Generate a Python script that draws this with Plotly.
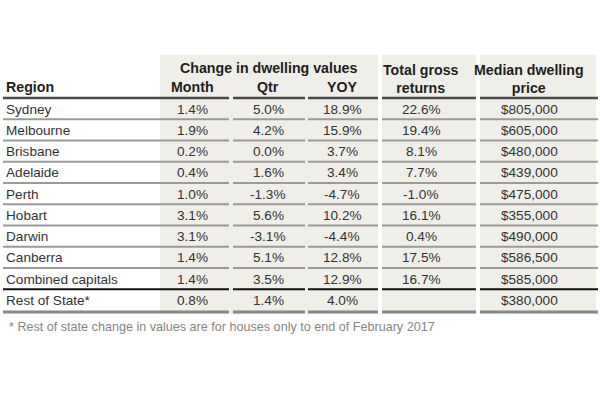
import plotly.graph_objects as go

regions = ["Sydney", "Melbourne", "Brisbane", "Adelaide", "Perth", "Hobart",
           "Darwin", "Canberra", "Combined capitals", "Rest of State*"]
month = ["1.4%", "1.9%", "0.2%", "0.4%", "1.0%", "3.1%", "3.1%", "1.4%", "1.4%", "0.8%"]
qtr = ["5.0%", "4.2%", "0.0%", "1.6%", "-1.3%", "5.6%", "-3.1%", "5.1%", "3.5%", "1.4%"]
yoy = ["18.9%", "15.9%", "3.7%", "3.4%", "-4.7%", "10.2%", "-4.4%", "12.8%", "12.9%", "4.0%"]
gross = ["22.6%", "19.4%", "8.1%", "7.7%", "-1.0%", "16.1%", "0.4%", "17.5%", "16.7%", ""]
median = ["$805,000", "$605,000", "$480,000", "$439,000", "$475,000", "$355,000",
          "$490,000", "$586,500", "$585,000", "$380,000"]
group_header = "Change in dwelling values"
sub_headers = ["Month", "Qtr", "YOY"]
gross_header = "Total gross<br>returns"
median_header = "Median dwelling<br>price"
region_header = "Region"
footnote = "* Rest of state change in values are for houses only to end of February 2017"

FONT = "Liberation Sans, Arial, sans-serif"
BODY = 13.6
HEAD = 14.2
SHADE = "#efeee9"

fig = go.Figure()

row0 = 109.0
dy = 21.25
sep0 = 98.0
col_x = {"month": 192, "qtr": 268, "yoy": 342, "gross": 421, "median": 529}
segments = [(3, 229), (233, 305), (308, 378), (382, 476), (480, 598)]

shapes = []
# shaded column blocks
for x0, x1 in [(160, 378), (382, 476), (480, 596)]:
    shapes.append(dict(type="rect", xref="x", yref="y", x0=x0, x1=x1, y0=55, y1=314,
                       fillcolor=SHADE, line=dict(width=0), layer="below"))

# horizontal separators
n = len(regions)
for i in range(n + 1):
    y = sep0 + i * dy
    if i == 0:
        color, w = "#4a4a4a", 2.4
    elif i == n - 1:
        color, w = "#111111", 2.2
    elif i == n:
        color, w = "#888888", 2.8
        y += 1.5
    else:
        color, w = "#9a9a9a", 1.8
    for x0, x1 in segments:
        shapes.append(dict(type="line", xref="x", yref="y", x0=x0, x1=x1, y0=y, y1=y,
                           line=dict(color=color, width=w)))

ann = []
def add(text, x, y, size=BODY, color="#333333", bold=False, xanchor="center"):
    if bold:
        text = "<b>" + text + "</b>"
    ann.append(dict(text=text, x=x, y=y, xref="x", yref="y", showarrow=False,
                    xanchor=xanchor, yanchor="middle",
                    font=dict(family=FONT, size=size, color=color)))

# headers
add(group_header, 268, 68, size=HEAD, color="#1e1e1e", bold=True)
for name, key in zip(sub_headers, ["month", "qtr", "yoy"]):
    add(name, col_x[key], 87, size=HEAD, color="#1e1e1e", bold=True)
add(region_header, 4, 87, size=HEAD, color="#1e1e1e", bold=True, xanchor="left")
add(gross_header, col_x["gross"], 79, size=HEAD, color="#1e1e1e", bold=True)
add(median_header, col_x["median"], 79, size=HEAD, color="#1e1e1e", bold=True)

# body
for i in range(n):
    y = row0 + i * dy
    add(regions[i], 4, y, xanchor="left")
    add(month[i], col_x["month"], y)
    add(qtr[i], col_x["qtr"], y)
    add(yoy[i], col_x["yoy"], y)
    if gross[i]:
        add(gross[i], col_x["gross"], y)
    add(median[i], col_x["median"], y)

add(footnote, 7, 327, size=12.6, color="#858585", xanchor="left")

fig.update_layout(
    width=600, height=400,
    margin=dict(l=0, r=0, t=0, b=0),
    paper_bgcolor="white", plot_bgcolor="white",
    xaxis=dict(range=[0, 600], visible=False, fixedrange=True),
    yaxis=dict(range=[400, 0], visible=False, fixedrange=True),
    shapes=shapes, annotations=ann, showlegend=False,
)

fig.write_html("out.html", config={"displayModeBar": False, "staticPlot": True},
               post_script="document.body.style.margin='0px';")
